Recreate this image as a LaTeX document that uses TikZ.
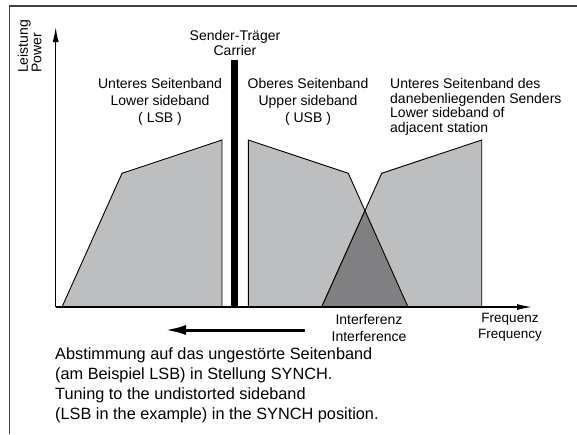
\documentclass[tikz,border=0pt]{standalone}
\usepackage{fontspec}
\setmainfont{Liberation Sans}
\usetikzlibrary{arrows.meta}
\definecolor{bandgray}{RGB}{189,190,192}
\definecolor{overlapgray}{RGB}{128,128,130}
\tikzset{
    band/.style={draw=black, line width=0.9pt, fill=bandgray},
    axis/.style={line width=1.2pt, -{Latex[length=15pt,width=6pt]}},
    lbl/.style={inner sep=0pt, font=\fontsize{14}{17}\selectfont, align=center, anchor=north},
}
\begin{document}
\begin{tikzpicture}[x=1pt,y=-1pt]
        \useasboundingbox (0,0) rectangle (577,434);
        % Frame:
        \draw[black!75, line width=1.2pt] (577,6) -- (9.5,6) -- (9.5,434);

        % Sidebands:
        \coordinate (adjL) at (321.7,307);
        \coordinate (adjK) at (381.7,173.3);
        \coordinate (usbK) at (348.3,173.3);
        \coordinate (usbR) at (408,307);
        \coordinate (cross) at (intersection of adjL--adjK and usbK--usbR);
        \draw[band] (62,307) -- (122,173.3) -- (222,140) -- (222,307) -- cycle;
        \draw[band] (248.3,307) -- (248.3,140) -- (usbK) -- (usbR) -- cycle;
        \draw[band] (adjL) -- (adjK) -- (481.7,140) -- (481.7,307) -- cycle;
        %interference
        \draw[band, fill=overlapgray] (adjL) -- (cross) -- (usbR) -- cycle;

        % Carrier:
        \draw[line width=6.5pt] (234.3,60) -- (234.3,307);

        % Axes:
        \coordinate (O) at (55.7,307);
        \coordinate (ytip) at (55.7,27);
        \coordinate (xtip) at (532,307);
        \draw[axis] (O) -- (ytip);
        \draw[axis] (O) -- (xtip);

        % Tuning arrow:
        \coordinate (tunefrom) at (305,330);
        \coordinate (tuneto) at (165,330);
        \draw[line width=3pt, -{Latex[length=21pt,width=10pt]}] (tunefrom) -- (tuneto);

        % Labels:
        \node[lbl, rotate=90, anchor=north west, align=left, font=\fontsize{14}{13.5}\selectfont] (power) at (17.5,73) {Leistung\\Power};
        \node[lbl, font=\fontsize{14}{14.5}\selectfont] (carrier) at (235,30.5) {Sender-Träger\\Carrier};
        \node[lbl] (lsb) at (160,78.3) {Unteres Seitenband\\Lower sideband\\( LSB )};
        \node[lbl] (usb) at (308,78.3) {Oberes Seitenband\\Upper sideband\\( USB )};
        \node[lbl, anchor=north west, align=left, font=\fontsize{14}{14.5}\selectfont] (adj) at (390,78.3)
            {Unteres Seitenband des\\danebenliegenden Senders\\Lower sideband of\\adjacent station};
        \node[lbl, font=\fontsize{14}{16.7}\selectfont] (interf) at (369,314) {Interferenz\\Interference};
        \node[lbl, font=\fontsize{13.5}{16}\selectfont] (freq) at (510,313.5) {Frequenz\\Frequency};
        \node[lbl, anchor=north west, align=left, font=\fontsize{16.3}{19.9}\selectfont] (note) at (55,347.6)
            {Abstimmung auf das ungestörte Seitenband\\(am Beispiel LSB) in Stellung SYNCH.\\Tuning to the undistorted sideband\\(LSB in the example) in the SYNCH position.};
    \end{tikzpicture}
\end{document}
